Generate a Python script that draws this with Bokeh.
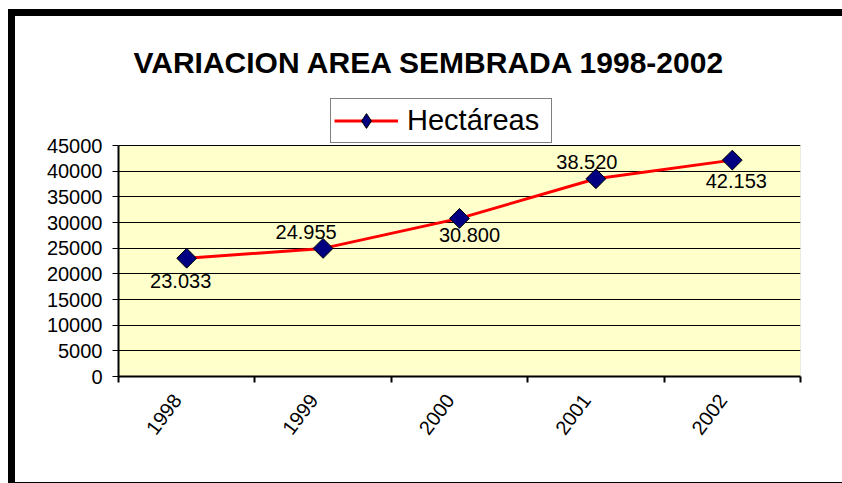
import math
from bokeh.plotting import figure
from bokeh.models import (ColumnDataSource, FixedTicker, Legend, LegendItem, Title,
                          Spacer, BoxAnnotation)
from bokeh.layouts import column, row
from bokeh.core.properties import value
from bokeh.embed import file_html
from bokeh.resources import INLINE

years = [1998, 1999, 2000, 2001, 2002]
hectareas = [23033, 24955, 30800, 38520, 42153]
point_labels = ["23.033", "24.955", "30.800", "38.520", "42.153"]
y_ticks = [0, 5000, 10000, 15000, 20000, 25000, 30000, 35000, 40000, 45000]

# label placement offsets (screen pixels)
label_dx = [-6, -17, 10, -9, 4]
label_dy = [23, -16, 17, -17, 21]

FONT = "Liberation Sans"
# extra headroom above the plot area so the legend can sit inside the frame
Y_TOP = y_ticks[-1] * 286 / 231
# rotated category labels sit slightly left of the category centre (Excel style)
LABEL_SHIFT = 0.07

src = ColumnDataSource(dict(x=years, y=hectareas, lab=point_labels,
                            dx=label_dx, dy=label_dy))

p = figure(width=827, height=466, output_backend="svg", toolbar_location=None,
           x_range=(years[0] - 0.5, years[-1] + 0.5), y_range=(y_ticks[0], Y_TOP),
           min_border_left=103, min_border_right=42, min_border_bottom=106,
           min_border_top=74)

p.background_fill_color = "white"
p.border_fill_color = "white"
p.outline_line_color = None

p.title = Title(text="VARIACION AREA SEMBRADA 1998-2002", align="left", offset=15,
                text_font=FONT, text_font_size="30px", text_font_style="bold",
                text_color="black", standoff=24)

plot_area = BoxAnnotation(bottom=y_ticks[0], top=y_ticks[-1], fill_color="#FFFFCC",
                          fill_alpha=1, line_color="#808080", line_width=1, level="image")
p.add_layout(plot_area)

# axes
label_pos = [y - LABEL_SHIFT for y in years]
p.xaxis.ticker = FixedTicker(ticks=label_pos,
                             minor_ticks=[y - 0.5 for y in years] + [years[-1] + 0.5])
p.xaxis.major_tick_out = 0
p.xaxis.major_tick_in = 0
p.xaxis.minor_tick_out = 6
p.xaxis.minor_tick_in = 0
p.xaxis.minor_tick_line_color = "black"
p.xaxis.minor_tick_line_width = 2
p.xaxis.major_label_orientation = math.radians(53)
p.xaxis.major_label_overrides = {pos: str(y) for pos, y in zip(label_pos, years)}
p.xaxis.major_label_text_font = FONT
p.xaxis.major_label_text_font_size = "20px"
p.xaxis.major_label_text_color = "black"
p.xaxis.major_label_standoff = 14
p.xaxis.axis_line_color = "black"
p.xaxis.axis_line_width = 2

p.yaxis.ticker = FixedTicker(ticks=y_ticks, minor_ticks=[])
p.yaxis.bounds = (y_ticks[0], y_ticks[-1])
p.yaxis.major_tick_out = 6
p.yaxis.major_tick_in = 0
p.yaxis.major_tick_line_width = 1
p.yaxis.major_label_text_font = FONT
p.yaxis.major_label_text_font_size = "20px"
p.yaxis.major_label_text_color = "black"
p.yaxis.major_label_standoff = 10
p.yaxis.axis_line_color = "black"
p.yaxis.axis_line_width = 2

p.xgrid.grid_line_color = None
p.ygrid.grid_line_color = "black"
p.ygrid.grid_line_width = 1.2

line = p.line("x", "y", source=src, line_color="red", line_width=3)
pts = p.scatter("x", "y", source=src, marker="square", size=14, angle=math.pi / 4,
                fill_color="#000080", line_color="black", line_width=1)

# hidden twins used only for the legend swatch (legend cannot rotate markers)
leg_line = p.line("x", "y", source=src, line_color="red", line_width=3, visible=False)
leg_pts = p.scatter("x", "y", source=src, marker="diamond", size=14,
                    fill_color="#000080", line_color="black", line_width=1, visible=False)

p.text("x", "y", text="lab", source=src, x_offset="dx", y_offset="dy",
       text_font=value(FONT), text_font_size="20px", text_color="black",
       text_align="center", text_baseline="middle")

legend = Legend(items=[LegendItem(label="Hectáreas", renderers=[leg_line, leg_pts])],
                location=(212, 233), orientation="horizontal",
                label_text_font=FONT, label_text_font_size="29px",
                label_text_color="black", glyph_width=64, glyph_height=37,
                label_standoff=9, label_width=141, padding=3, margin=0,
                border_line_color="black", border_line_width=1,
                background_fill_color="white", background_fill_alpha=1)
p.add_layout(legend)

BLACK = {"background-color": "black"}
layout = column(
    Spacer(width=842, height=9),
    row(Spacer(width=8, height=7), Spacer(width=834, height=7, styles=BLACK), spacing=0),
    row(Spacer(width=8, height=466), Spacer(width=7, height=466, styles=BLACK), p, spacing=0),
    row(Spacer(width=8, height=1), Spacer(width=834, height=1, styles=BLACK), spacing=0),
    spacing=0,
)

open("out.html", "w").write(file_html(layout, INLINE))
